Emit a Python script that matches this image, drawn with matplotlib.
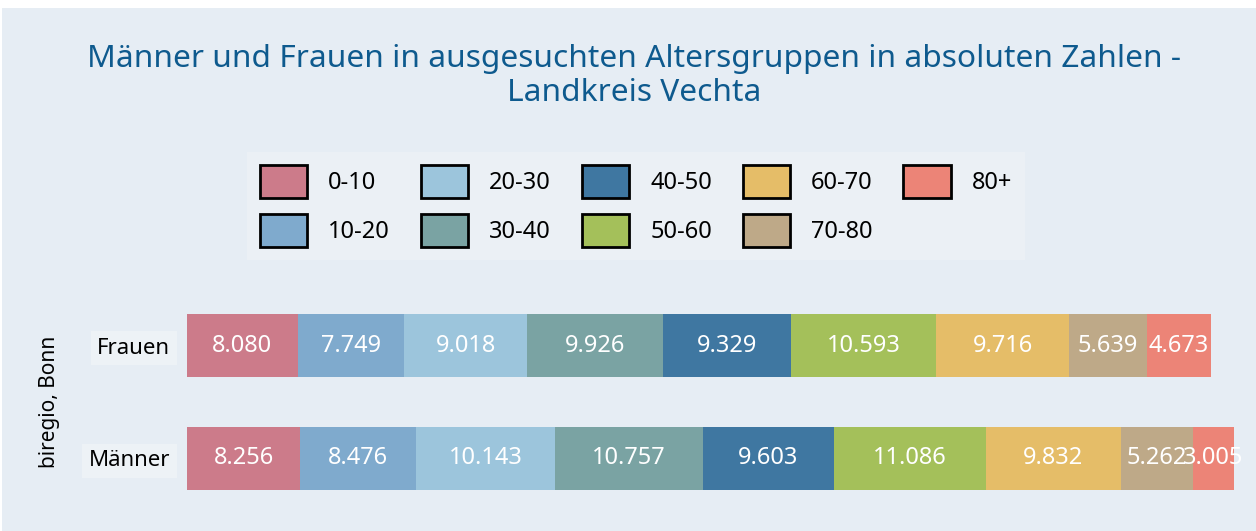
import matplotlib
matplotlib.use("Agg")
import matplotlib.pyplot as plt
import matplotlib.patches as mpatches

# ─────────────────────────────────────────────
#  Data
# ─────────────────────────────────────────────

GROUPS = ["Frauen", "Männer"]
AGE_BANDS = ["0-10", "10-20", "20-30", "30-40", "40-50",
             "50-60", "60-70", "70-80", "80+"]
FRAUEN = [8080, 7749, 9018, 9926, 9329, 10593, 9716, 5639, 4673]
MAENNER = [8256, 8476, 10143, 10757, 9603, 11086, 9832, 5262, 3005]

BAND_COLORS = ["#cc7b8a", "#7faacd", "#9cc5dc", "#7aa3a3", "#3f77a1",
               "#a4c05a", "#e5bd68", "#bea988", "#ec8477"]

BG = "#e6edf4"
TITLE_COLOR = "#0e5a8e"

plt.rcParams["font.family"] = ["Noto Sans", "DejaVu Sans"]

fig = plt.figure(figsize=(12.56, 5.31), dpi=100, facecolor="white")
# light panel behind everything (thin white margin top/left like the original)
fig.patches.append(mpatches.Rectangle((2 / 1256, 0), 1, 1 - 8 / 531,
                                      transform=fig.transFigure,
                                      facecolor=BG, edgecolor="none", zorder=-5))

ax = fig.add_axes([187 / 1256, 16 / 531, (1234 - 187) / 1256, (515 - 289) / 531])
ax.patch.set_alpha(0)

rows = [FRAUEN, MAENNER]
ypos = [1, 0]
for y, vals in zip(ypos, rows):
    left = 0
    for i, v in enumerate(vals):
        ax.barh(y, v, left=left, height=0.56, color=BAND_COLORS[i],
                edgecolor="none")
        ax.text(left + v / 2, y, f"{v:,}".replace(",", "."),
                ha="center", va="center", color="white", fontsize=17)
        left += v

ax.set_xlim(0, sum(MAENNER))
ax.set_ylim(-0.5, 1.5)
ax.set_yticks(ypos)
ax.set_yticklabels(GROUPS, fontsize=16)
for lbl in ax.get_yticklabels():
    lbl.set_bbox(dict(facecolor="#edf2f6", edgecolor="none",
                      boxstyle="square,pad=0.3"))
ax.tick_params(axis="y", length=0, pad=12)
ax.set_xticks([])
for s in ax.spines.values():
    s.set_visible(False)
ax.set_ylabel("biregio, Bonn", fontsize=15)
ax.yaxis.set_label_coords(-(187 - 60) / (1234 - 187), 0.5)

fig.suptitle("Männer und Frauen in ausgesuchten Altersgruppen in absoluten Zahlen -\nLandkreis Vechta",
             x=0.505, y=0.918, fontsize=22.8, color=TITLE_COLOR, linespacing=1.2)

handles = [mpatches.Patch(facecolor=c, edgecolor="black", linewidth=2)
           for c in BAND_COLORS]
leg = fig.legend(handles, AGE_BANDS, ncol=5, loc="center",
                 bbox_to_anchor=(636 / 1256, 1 - 206 / 531),
                 fontsize=17, frameon=True, fancybox=False,
                 handlelength=2.0, handleheight=1.8, handletextpad=0.9,
                 columnspacing=1.3, labelspacing=0.65, borderpad=0.55)
leg.get_frame().set_facecolor("#edf2f6")
leg.get_frame().set_edgecolor("none")

fig.savefig("out.png", dpi=100, facecolor="white")
